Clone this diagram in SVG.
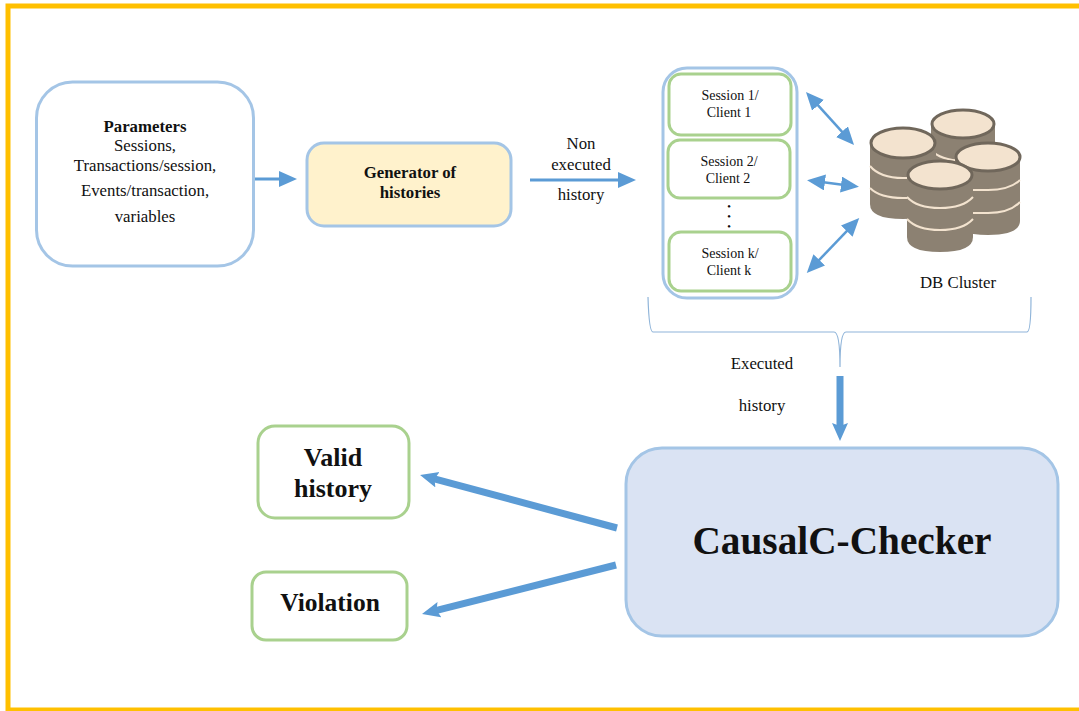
<svg xmlns="http://www.w3.org/2000/svg" width="1079" height="711" viewBox="0 0 1079 711">
<style>
text{font-family:"Liberation Serif","Times New Roman",serif;fill:#111;text-anchor:middle}
.b{font-weight:bold}
.blue{fill:#fff;stroke:#a4c5e6;stroke-width:3}
.green{fill:#fff;stroke:#a9d18e;stroke-width:3}
.c{fill:none;stroke:#5b9bd5}
.s{font-size:14px}
.m{font-size:16.800px}
.body{fill:#8c8172}
.top{fill:#f3e3cf;stroke:#70675b;stroke-width:3}
.band{fill:none;stroke:#f3e3cf;stroke-width:2}
</style>
<defs>
<marker id="a" markerUnits="userSpaceOnUse" markerWidth="20" markerHeight="20" refX="9" refY="8" orient="auto"><path d="M0 0L18 8L0 16Z" fill="#5b9bd5"/></marker>
<marker id="d" markerUnits="userSpaceOnUse" markerWidth="20" markerHeight="20" refX="9" refY="8" orient="auto-start-reverse"><path d="M0 0L18 8L0 16Z" fill="#5b9bd5"/></marker>
<marker id="t" markerUnits="userSpaceOnUse" markerWidth="22" markerHeight="20" refX="8" refY="8" orient="auto"><path d="M0 0L18 8L0 16L3 8Z" fill="#5b9bd5"/></marker>
</defs>
<rect x="8" y="6" width="1080" height="704" fill="none" stroke="#ffc000" stroke-width="5"/>
<rect x="8" y="709" width="1071" height="2" fill="#ffc000"/>

<g id="parameters"><rect class="blue" x="36.500" y="82" width="217" height="184" rx="36"/>
<text class="b" x="145" y="132" font-size="16.800">Parameters</text>
<text class="m" x="145" y="151">Sessions,</text>
<text class="m" x="145" y="171">Transactions/session,</text>
<text class="m" x="145" y="196">Events/transaction,</text>
<text class="m" x="145" y="222">variables</text></g>

<g id="generator"><rect x="307" y="143" width="204" height="83" rx="17" fill="#fff2cc" stroke="#a4c5e6" stroke-width="3"/>
<text class="b" x="410" y="178" font-size="16.800">Generator of</text>
<text class="b" x="410" y="198" font-size="16.800">histories</text></g>

<g id="session-group"><rect x="663" y="68" width="134" height="230" rx="24" fill="#fff" stroke="#a4c5e6" stroke-width="3"/>
<text x="729" y="207" font-size="8.500" class="b" stroke="#111" stroke-width="1.200">.</text>
<text x="729" y="217" font-size="8.500" class="b" stroke="#111" stroke-width="1.200">.</text>
<text x="729" y="227" font-size="8.500" class="b" stroke="#111" stroke-width="1.200">.</text></g>
<g id="session1"><rect class="green" x="669" y="74" width="122" height="61" rx="12"/>
<text class="s" x="730" y="100">Session 1/</text><text class="s" x="729" y="117">Client 1</text></g>
<g id="session2"><rect class="green" x="668" y="140" width="122" height="58" rx="12"/>
<text class="s" x="729" y="166">Session 2/</text><text class="s" x="728" y="183">Client 2</text></g>
<g id="sessionk"><rect class="green" x="669" y="232" width="122" height="59" rx="12"/>
<text class="s" x="730" y="258">Session k/</text><text class="s" x="729" y="275">Client k</text></g>

<g id="db-cluster">
<path class="body" d="M931 124V186Q931 200 963 200T995 186V124Z"/>
<path class="band" d="M931 150Q940 160 963 161"/>
<ellipse class="top" cx="963" cy="124" rx="31" ry="14"/>
<path class="body" d="M870 143V204Q870 219 903 219T936 204V143Z"/>
<path class="band" d="M870 166Q880 178 903 178H936M870 188Q880 198 903 198H936"/>
<ellipse class="top" cx="903" cy="143" rx="32" ry="15"/>
<path class="body" d="M955 157V220Q955 235 988 235T1020 220V157Z"/>
<path class="band" d="M970 190H988Q1010 190 1020 180M970 213H988Q1010 213 1020 202"/>
<ellipse class="top" cx="988" cy="157" rx="32" ry="14"/>
<path class="body" d="M907 175V237Q907 252 940 252T973 237V175Z"/>
<path class="band" d="M907 197Q917 208 940 208T973 197M907 219Q917 230 940 230T973 219"/>
<ellipse class="top" cx="940" cy="175" rx="32" ry="14"/>
<text x="958" y="288" font-size="16.800">DB Cluster</text></g>

<g id="checker"><rect x="626" y="448" width="432" height="188" rx="36" fill="#dae3f3" stroke="#a4c5e6" stroke-width="3"/>
<text class="b" x="842" y="554" font-size="39.300">CausalC-Checker</text></g>
<g id="valid"><rect class="green" x="258" y="426" width="151" height="92" rx="17"/>
<text class="b" x="333" y="466" font-size="26">Valid</text>
<text class="b" x="333" y="497" font-size="26">history</text></g>
<g id="violation"><rect class="green" x="252" y="572" width="155" height="68" rx="14"/>
<text class="b" x="330" y="611" font-size="25.500">Violation</text></g>

<g id="connectors">
<path class="c" stroke-width="3" d="M255 179H288" marker-end="url(#a)"/>
<path class="c" stroke-width="3" d="M530 180H627" marker-end="url(#d)"/>
<path class="c" stroke-width="2.500" d="M812 98.600L848 138.400" marker-start="url(#d)" marker-end="url(#d)"/>
<path class="c" stroke-width="2.500" d="M816 181.300L850 185.700" marker-start="url(#d)" marker-end="url(#d)"/>
<path class="c" stroke-width="2.500" d="M813 266.400L853 224.600" marker-start="url(#d)" marker-end="url(#d)"/>
<path fill="none" stroke="#8fb4d9" stroke-width="1.200" d="M648 297Q649 332 653 332H834Q840 332 840 367Q840 332 846 332H1027Q1031 332 1031 297"/>
<path class="c" stroke-width="7" d="M840 376V431" marker-end="url(#t)"/>
<path class="c" stroke-width="7" d="M617 528L429.700 477.600" marker-end="url(#t)"/>
<path class="c" stroke-width="7" d="M616 565L431.700 611.600" marker-end="url(#t)"/>
</g>
<g id="labels">
<text class="m" x="581" y="149">Non</text>
<text class="m" x="581" y="170">executed</text>
<text class="m" x="581" y="200">history</text>
<text class="m" x="762" y="369">Executed</text>
<text class="m" x="762" y="411">history</text>
</g>
</svg>
